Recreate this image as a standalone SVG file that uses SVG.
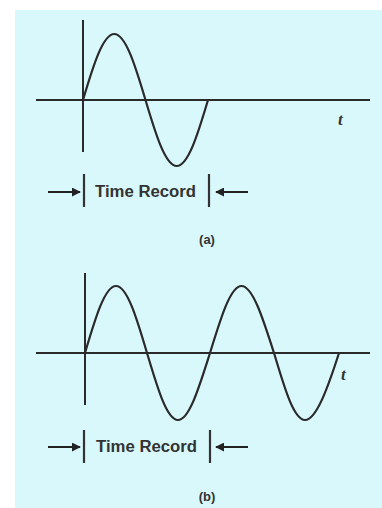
<svg xmlns="http://www.w3.org/2000/svg" width="382" height="508" viewBox="0 0 382 508">
<defs>
<style>
.ax{stroke:#2a2a2a;stroke-width:2;fill:none}
.wave{stroke:#2a2a2a;stroke-width:2.2;fill:none}
.tick{stroke:#333;stroke-width:2.2}
.arr{stroke:#222;stroke-width:2;marker-end:url(#ah)}
.lbl{font-family:"Liberation Sans",Arial,sans-serif;font-weight:bold;fill:#333}
.t{font-family:"Liberation Serif","Times New Roman",serif;font-style:italic;font-weight:bold;fill:#333;font-size:17px}
</style>
<marker id="ah" viewBox="0 0 10 10" refX="9" refY="5" markerWidth="4.5" markerHeight="4.5" orient="auto" markerUnits="strokeWidth">
<path d="M0,0 L10,5 L0,10 Z" fill="#222"/>
</marker>
</defs>
<rect x="0" y="0" width="382" height="508" fill="#ffffff"/>
<rect x="15" y="10" width="367" height="498" fill="#d9f8fc"/>

<g id="panel-a">
<line class="ax" x1="83" y1="20" x2="83" y2="152"/>
<line class="ax" x1="36" y1="100" x2="370" y2="100"/>
<path class="wave" d="M83,100 C93.19,65.7 102.94,34 114.25,34 C125.56,34 135.31,65.7 145.5,100 C155.69,134.3 165.44,166 176.75,166 C188.06,166 197.81,134.3 208,100"/>
<text class="t" x="338" y="125">t</text>
</g>

<g id="record-a">
<g class="connectors">
<line class="arr" x1="48" y1="192" x2="80" y2="192"/>
<line class="arr" x1="248" y1="192" x2="216" y2="192"/>
</g>
<line class="tick" x1="84" y1="174" x2="84" y2="207"/>
<line class="tick" x1="209" y1="174" x2="209" y2="207"/>
<text class="lbl" x="95" y="197" font-size="16" textLength="101" lengthAdjust="spacingAndGlyphs">Time Record</text>
<text class="lbl" x="207" y="244" font-size="13" text-anchor="middle">(a)</text>
</g>

<g id="panel-b">
<line class="ax" x1="85" y1="273" x2="85" y2="405"/>
<line class="ax" x1="36" y1="353" x2="370" y2="353"/>
<path class="wave" d="M85,353 C95.1,318.7 104.8,286 116,286 C127.2,286 136.9,318.7 147,353 C157.3,387.3 166.7,420 178,420 C189.3,420 199,387.3 210,353 C220.6,318.7 230.3,286 241.5,286 C252.7,286 263,318.7 274,353 C284.3,387.3 293.7,420 305,420 C316.3,420 328,387.3 339,353"/>
<text class="t" x="341" y="380">t</text>
</g>

<g id="record-b">
<g class="connectors">
<line class="arr" x1="48" y1="447" x2="80" y2="447"/>
<line class="arr" x1="248" y1="447" x2="216" y2="447"/>
</g>
<line class="tick" x1="84" y1="430" x2="84" y2="463"/>
<line class="tick" x1="210" y1="430" x2="210" y2="463"/>
<text class="lbl" x="96" y="452" font-size="16" textLength="101" lengthAdjust="spacingAndGlyphs">Time Record</text>
<text class="lbl" x="207" y="501" font-size="13" text-anchor="middle">(b)</text>
</g>
</svg>
